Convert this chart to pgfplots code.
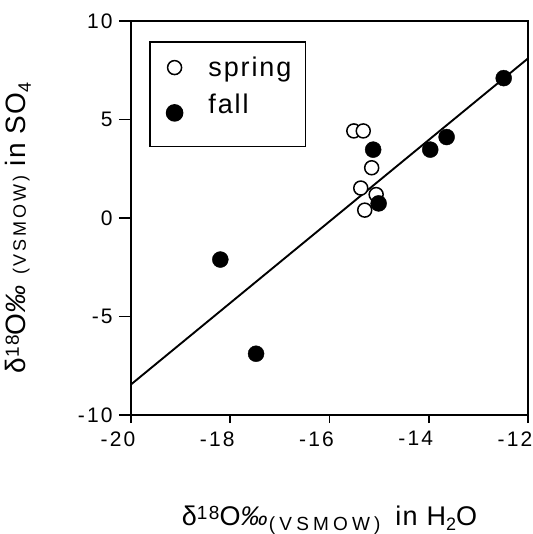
\documentclass[border=0pt]{standalone}
\usepackage{fontspec}
\setmainfont{Liberation Sans}
\usepackage{pgfplots}
\pgfplotsset{compat=1.18}
\begin{document}
\begin{tikzpicture}[x=1pt,y=1pt]
\path[use as bounding box] (-131,-119) rectangle (401,415);
\begin{axis}[
 at={(0,0)}, anchor=south west, scale only axis,
 width=397pt, height=394pt,
 xmin=-20, xmax=-12, ymin=-10, ymax=10,
 xtick={-20,-18,-16,-14,-12}, xticklabels={-20,-18,-16,-14,-12},
 ytick={-10,-5,0,5,10}, yticklabels={-10,-5,0,5,10},
 axis line style={line width=1.8pt},
 tick style={line width=1.6pt, black},
 tick pos=left, tick align=outside,
 xtick style={/pgfplots/major tick length=8pt},
 ytick style={/pgfplots/major tick length=12pt},
 x tick label style={font=\fontsize{21}{22}\selectfont\addfontfeatures{LetterSpace=10}, anchor=north, inner sep=0pt, xshift=-13pt, yshift=-12pt},
 y tick label style={font=\fontsize{21}{22}\selectfont\addfontfeatures{LetterSpace=10}, anchor=east, inner sep=0pt, xshift=-14pt},
 xlabel={δ\raisebox{6pt}{\fontsize{19}{19}\selectfont\addfontfeatures{LetterSpace=8}18}O\textit{‰}\raisebox{-5pt}{\fontsize{19}{19}\selectfont\addfontfeatures{LetterSpace=22}(VSMOW)}\hspace{6pt} in H\raisebox{-5pt}{\fontsize{18}{18}\selectfont 2}O},
 xlabel style={font=\fontsize{27}{28}\selectfont\addfontfeatures{LetterSpace=5}, at={(axis description cs:0.5,-0.2792)}, anchor=base, inner sep=0pt},
 ylabel={δ\raisebox{7pt}{\fontsize{19}{19}\selectfont\addfontfeatures{LetterSpace=8}18}O\textit{‰} {\fontsize{18}{18}\selectfont\addfontfeatures{LetterSpace=16}(VSMOW)} in SO\raisebox{-5pt}{\fontsize{18}{18}\selectfont 4}},
 ylabel style={font=\fontsize{28}{29}\selectfont\addfontfeatures{LetterSpace=5}, at={(axis description cs:-0.265,0.475)}, anchor=base, inner sep=0pt},
 legend style={at={(rel axis cs:0.0453,0.9486)}, anchor=north west, draw=black, line width=1.6pt,
   font=\fontsize{27}{28}\selectfont\addfontfeatures{LetterSpace=7}, row sep=12pt, inner xsep=12pt, inner ysep=13pt},
 legend cell align=left,
 legend image code/.code={\draw[#1, only marks] plot coordinates {(12pt,0pt)}; \path (0pt,0pt) (43pt,0pt);},
]
\addplot[no marks, line width=1.9pt, forget plot] coordinates {(-20,-8.45) (-12,8.10)};
\addplot[only marks, mark=*, mark size=7pt, mark options={fill=white, draw=black, line width=1.5pt}] coordinates {
(-15.51,4.42) (-15.32,4.42) (-15.15,2.55) (-15.37,1.52) (-15.06,1.19) (-15.29,0.40)};
\addlegendentry{spring\hspace{14pt}}
\addplot[only marks, mark=*, mark size=8pt, mark options={fill=black, draw=black}] coordinates {
(-12.49,7.10) (-13.64,4.11) (-13.97,3.47) (-15.12,3.47) (-15.01,0.74) (-18.20,-2.11) (-17.48,-6.89)};
\addlegendentry[text depth=18pt]{fall}
\end{axis}
\end{tikzpicture}
\end{document}
